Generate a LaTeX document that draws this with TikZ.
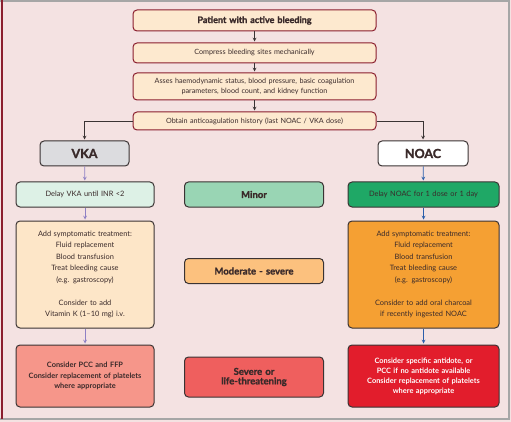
\documentclass[tikz,border=0pt]{standalone}
\usepackage{fontspec}
\setmainfont{Lato}
\newfontfamily\heavyfont{Lato}[BoldFeatures={FakeBold=1.6}]
\usepackage{tikz}
\usetikzlibrary{arrows}

\definecolor{pagebg}{HTML}{F4E2E2}
\definecolor{topfill}{HTML}{FDE9CF}
\definecolor{topline}{HTML}{8B1E2E}
\definecolor{boxline}{HTML}{3A3333}
\definecolor{vkagray}{HTML}{DCDCDF}
\definecolor{mintlight}{HTML}{DDF1E6}
\definecolor{mintmid}{HTML}{99D5B4}
\definecolor{greendark}{HTML}{1FA866}
\definecolor{peachlight}{HTML}{FDE6C8}
\definecolor{peachmid}{HTML}{FCC17E}
\definecolor{orangedark}{HTML}{F5A033}
\definecolor{salmon}{HTML}{F6968A}
\definecolor{redmid}{HTML}{EF5F5E}
\definecolor{reddark}{HTML}{E21D2C}
\definecolor{vkaarrow}{HTML}{8E80C4}
\definecolor{noacarrow}{HTML}{2B5EAB}
\definecolor{textdark}{HTML}{3A2A2A}

\begin{document}
\begin{tikzpicture}[x=1pt,y=-1pt]

\tikzset{flow box/.style={
    draw=boxline, line width=1pt, rounded corners=4pt, text=textdark,
    minimum width=#1, text width=#1-6pt, align=center, inner sep=2pt
  }, flow box/.default=138pt,
  top box/.style={flow box=243pt, draw=topline, fill=topfill,
    font=\fontsize{7.2}{10}\selectfont},
  small text/.style={font=\fontsize{7.4}{11.5}\selectfont},
  bold text/.style={font=\bfseries\fontsize{7.4}{10.6}\selectfont},
  heavy text/.style={font=\heavyfont\bfseries\fontsize{#1}{#1+3pt}\selectfont},
  heavy text/.default=9.5pt,
  step arrow/.style={-stealth, line width=0.7pt, shorten >=1pt}
}

% frame
\useasboundingbox (0,0) rectangle (511,422);
\fill[pagebg] (0,0) rectangle (511,422);
\draw[gray!70, line width=1.2pt] (0,1) -- (509,1) -- (509,419) -- (0,419);
\draw[topline, line width=1.5pt] (2,0) -- (2,419);

% common steps
\node[top box, minimum height=21pt, heavy text=9pt]
  (patient) at (254.5,20.5) {Patient with active bleeding};
\node[top box, minimum height=20pt] (compress) at (254.5,53)
  {Compress bleeding sites mechanically};
\node[top box, minimum height=27pt] (assess) at (254.5,86.5)
  {Asses haemodynamic status, blood pressure, basic coagulation\\
   parameters, blood count, and kidney function};
\node[top box, minimum height=18pt] (history) at (254.5,121)
  {Obtain anticoagulation history (last NOAC / VKA dose)};

% drug type
\node[flow box=89pt, fill=vkagray, minimum height=25pt, heavy text=12.5pt]
  (vka) at (84.5,153.5) {VKA};
\node[flow box=90pt, fill=white, minimum height=25pt, heavy text=12.5pt]
  (noac) at (423,153.5) {NOAC};

% minor
\node[flow box, fill=mintlight, minimum height=25pt, small text]
  (delayvka) at (85,194.5) {Delay VKA until INR <2};
\node[flow box=139pt, fill=mintmid, minimum height=25pt, heavy text]
  (minor) at (254,194.5) {Minor};
\node[flow box=151pt, fill=greendark, minimum height=25pt, small text]
  (delaynoac) at (423.5,194.5) {Delay NOAC for 1 dose or 1 day};

% moderate - severe
\node[flow box, fill=peachlight, minimum height=107pt, small text]
  (sympvka) at (85,274.5) {Add symptomatic treatment:\\ Fluid replacement\\
  Blood transfusion\\ Treat bleeding cause\\ (e.g. gastroscopy)\\[11.5pt]
  Consider to add\\ Vitamin K (1--10 mg) i.v.};
\node[flow box=139pt, fill=peachmid, minimum height=25pt, heavy text]
  (moderate) at (254,271) {Moderate - severe};
\node[flow box=151pt, fill=orangedark, minimum height=107pt, small text]
  (sympnoac) at (423.5,274.5) {Add symptomatic treatment:\\ Fluid replacement\\
  Blood transfusion\\ Treat bleeding cause\\ (e.g. gastroscopy)\\[11.5pt]
  Consider to add oral charcoal\\ if recently ingested NOAC};

% severe
\node[flow box, fill=salmon, minimum height=62pt, bold text]
  (pccvka) at (85,376) {Consider PCC and FFP\\
  Consider replacement of platelets\\ where appropriate};
\node[flow box=139pt, fill=redmid, minimum height=40pt, heavy text]
  (severe) at (254,377) {Severe or\\ life-threatening};
\node[flow box=151pt, fill=reddark, minimum height=62pt, bold text,
  text=white, font=\bfseries\fontsize{7.4}{10}\selectfont] (pccnoac)
  at (423.5,376) {Consider specific antidote, or\\ PCC if no antidote available\\
  Consider replacement of platelets\\ where appropriate};

% connectors
\draw[step arrow, boxline] (patient) -- (compress);
\draw[step arrow, boxline] (compress) -- (assess);
\draw[step arrow, boxline] (assess) -- (history);
\draw[step arrow, boxline] (history.west) -| (vka.north);
\draw[step arrow, boxline] (history.east) -| (noac.north);
\draw[step arrow, vkaarrow] (vka) -- (delayvka);
\draw[step arrow, vkaarrow] (delayvka) -- (sympvka);
\draw[step arrow, vkaarrow] (sympvka) -- (pccvka);
\draw[step arrow, noacarrow] (noac) -- (delaynoac);
\draw[step arrow, noacarrow] (delaynoac) -- (sympnoac);
\draw[step arrow, noacarrow] (sympnoac) -- (pccnoac);

\end{tikzpicture}
\end{document}
